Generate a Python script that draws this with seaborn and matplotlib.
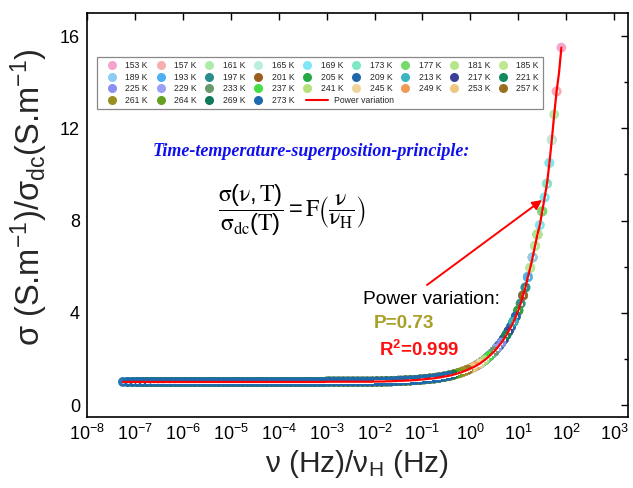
import numpy as np
import pandas as pd
import matplotlib
matplotlib.use("Agg")
import matplotlib.pyplot as plt
import seaborn as sns
from matplotlib.lines import Line2D
from matplotlib.ticker import NullLocator, MultipleLocator

# ---------------- data ----------------
temps = ["153 K", "157 K", "161 K", "165 K", "169 K", "173 K", "177 K", "181 K", "185 K",
         "189 K", "193 K", "197 K", "201 K", "205 K", "209 K", "213 K", "217 K", "221 K",
         "225 K", "229 K", "233 K", "237 K", "241 K", "245 K", "249 K", "253 K", "257 K",
         "261 K", "264 K", "269 K", "273 K"]

temp_colors = ["#F5A3CC", "#F5AFAF", "#AEEBA8", "#B8F0DC", "#7FE6F7", "#7DE8C3", "#77D96A", "#B5E68A", "#BEE890",
               "#8CCBF2", "#4DAFF0", "#2A8C8C", "#9A5E1E", "#22AA44", "#2266AA", "#3AB5C0", "#3A3F99", "#138A5A",
               "#8A8FF0", "#9AA0F5", "#6A9A6A", "#44DD44", "#B5E07A", "#EFD49A", "#F09A55", "#EEC880", "#9A7020",
               "#9A9020", "#66A020", "#0E7A5A", "#1F6AAE"]

# log10 of the last (highest) scaled frequency of each temperature
end_log_nu = [1.90, 1.80, 1.75, 1.70, 1.65, 1.60, 1.50, 1.40, 1.35,
              1.30, 1.20, 1.15, 1.10, 1.00, 0.95, 0.90, 0.80, 0.75,
              0.65, 0.55, 0.50, 0.40, 0.30, 0.20, 0.10, 0.05, -0.05,
              -0.15, -0.25, -0.35, -0.45]
points_per_temp = 69

# master curve sigma/sigma_dc on the scaled-frequency grid (log10 from -7.25, step 0.05)
grid_start_log = -7.25
grid_step_log = 0.05
master_sigma = [
    1.00, 1.00, 1.00, 1.00, 1.00, 1.00, 1.00, 1.00, 1.00, 1.00, 1.00, 1.00, 1.00, 1.00, 1.00, 1.00, 1.00,
    1.00, 1.00, 1.00, 1.00, 1.00, 1.00, 1.00, 1.00, 1.00, 1.00, 1.00, 1.00, 1.00, 1.00, 1.00, 1.00, 1.00,
    1.00, 1.00, 1.00, 1.00, 1.00, 1.00, 1.00, 1.00, 1.00, 1.00, 1.00, 1.00, 1.00, 1.00, 1.00, 1.00, 1.00,
    1.00, 1.00, 1.00, 1.00, 1.00, 1.00, 1.00, 1.00, 1.00, 1.00, 1.00, 1.00, 1.00, 1.00, 1.00, 1.00, 1.00,
    1.00, 1.00, 1.00, 1.00, 1.00, 1.00, 1.00, 1.00, 1.00, 1.00, 1.00, 1.00, 1.00, 1.00, 1.00, 1.00, 1.00,
    1.01, 1.01, 1.01, 1.01, 1.01, 1.01, 1.01, 1.01, 1.01, 1.01, 1.01, 1.01, 1.01, 1.01, 1.01, 1.01, 1.01,
    1.01, 1.01, 1.01,
    1.02, 1.02, 1.02, 1.02, 1.02, 1.03, 1.03, 1.03, 1.04, 1.04,
    1.05, 1.05, 1.05, 1.06, 1.06, 1.07, 1.08, 1.08, 1.09, 1.10,
    1.11, 1.12, 1.13, 1.14, 1.15, 1.16, 1.18, 1.19, 1.21, 1.23,
    1.25, 1.27, 1.29, 1.32, 1.35, 1.38, 1.41, 1.45, 1.49, 1.53,
    1.58, 1.63, 1.68, 1.74, 1.80, 1.88, 1.95, 2.04, 2.13, 2.23,
    2.33, 2.45, 2.58, 2.71, 2.86, 3.03, 3.21, 3.40, 3.61, 3.84,
    4.10, 4.40, 4.75, 5.10, 5.55, 5.95, 6.40, 6.90, 7.40, 7.80,
    8.40, 9.00, 9.60, 10.50, 11.50, 12.60, 13.60, 14.40, 15.50, 16.20,
]
fit_end_log_nu = 1.90

x_tick_exponents = list(range(-8, 4))
y_major_ticks = [0, 4, 8, 12, 16]

# ---------------- build table ----------------
log_grid = np.round(grid_start_log + grid_step_log * np.arange(len(master_sigma)), 2)
sigma = np.array(master_sigma)

rows = []
for t, e in zip(temps, end_log_nu):
    end_idx = int(round((e - grid_start_log) / grid_step_log))
    idx = np.arange(end_idx - 2 * (points_per_temp - 1), end_idx + 1, 2)
    for i in idx:
        rows.append((t, 10 ** log_grid[i], sigma[i]))
df = pd.DataFrame(rows, columns=["T", "nu", "sigma"])

fit_idx = int(round((fit_end_log_nu - grid_start_log) / grid_step_log))
fit_df = pd.DataFrame({"nu": 10 ** log_grid[:fit_idx + 1], "sigma": sigma[:fit_idx + 1]})

# ---------------- style ----------------
sns.set_theme(style="white")
plt.rcParams["font.family"] = ["Liberation Sans", "DejaVu Sans"]
plt.rcParams["mathtext.fontset"] = "custom"
plt.rcParams["mathtext.rm"] = "Liberation Sans"
plt.rcParams["mathtext.it"] = "Liberation Sans:italic"
plt.rcParams["mathtext.bf"] = "Liberation Sans:bold"
plt.rcParams["mathtext.default"] = "regular"

W, H = 633, 488
fig = plt.figure(figsize=(W / 100, H / 100), dpi=100)
L, R, T, B = 87, 628, 13, 417
ax = fig.add_axes([L / W, 1 - B / H, (R - L) / W, (B - T) / H])

palette = dict(zip(temps, temp_colors))
sns.scatterplot(data=df, x="nu", y="sigma", hue="T", palette=palette, s=50,
                linewidth=0, alpha=0.95, legend=False, ax=ax, zorder=2)
sns.scatterplot(data=df, x="nu", y="sigma", color="white", s=4, linewidth=0,
                alpha=0.8, legend=False, ax=ax, zorder=3)
sns.lineplot(data=fit_df, x="nu", y="sigma", color="#FF0000", lw=1.6, sort=False,
             estimator=None, ax=ax, zorder=4)

ax.set_xscale("log")
ax.set_xlim(1e-8, 10 ** 3.29)
ax.set_ylim(-0.52, 17.0)
ax.set_xticks([10.0 ** k for k in x_tick_exponents])
ax.xaxis.set_minor_locator(NullLocator())
ax.set_yticks(y_major_ticks)
ax.yaxis.set_minor_locator(MultipleLocator(2))
ax.tick_params(which="both", direction="in", top=True, right=True, width=1.0, colors="black")
ax.tick_params(which="major", length=5, labelsize=13, pad=5)
ax.tick_params(which="minor", length=3)
for sp in ax.spines.values():
    sp.set_color("black")
    sp.set_linewidth(1.2)

ax.set_xlabel("ν (Hz)/ν$_{\\mathrm{H}}$ (Hz)", fontsize=21.5, labelpad=3)
ax.set_ylabel("σ (S.m$^{-1}$)/σ$_{\\mathrm{dc}}$(S.m$^{-1}$)", fontsize=23.5)
ax.yaxis.set_label_coords((50 - L) / (R - L), (B - 197) / (B - T))

# legend (row-major order in 9 columns)
handles = [Line2D([], [], ls="none", marker="o", markersize=6.5, markerfacecolor=c,
                  markeredgewidth=0) for c in temp_colors]
ncol = 9
nrow = 4
order = [i * ncol + j for j in range(ncol) for i in range(nrow) if i * ncol + j < len(temps)]
leg = ax.legend([handles[k] for k in order], [temps[k] for k in order], ncol=ncol,
                loc="upper left", bbox_to_anchor=((97 - L) / (R - L), (B - 57) / (B - T)),
                borderaxespad=0, fontsize=6.2, handlelength=2.4, handletextpad=0.4,
                columnspacing=0.25, labelspacing=0.3, borderpad=0.5, frameon=True,
                fancybox=False, edgecolor="#888888", framealpha=1)
leg.get_frame().set_linewidth(0.9)
leg.set_zorder(5)
ax.add_artist(leg)
leg2 = ax.legend([Line2D([], [], color="#FF0000", lw=1.5)], ["Power variation"],
                 loc="center left", bbox_to_anchor=((306 - L) / (R - L), (B - 100.5) / (B - T)),
                 borderaxespad=0, borderpad=0, fontsize=6.2, handlelength=2.55,
                 handletextpad=0.7, frameon=False)
leg2.set_zorder(6)

# texts
def fx(px):
    return px / W

def fy(py):
    return 1 - py / H

fig.text(fx(311), fy(152), "Time-temperature-superposition-principle:", color="#1010EE",
         fontsize=13, fontweight="bold", fontstyle="italic", family="Liberation Serif",
         ha="center", va="center")
fig.text(fx(292), fy(210),
         r"$\dfrac{\mathrm{\sigma}(\mathrm{\nu},\mathrm{T})}{\mathrm{\sigma}_{\mathrm{dc}}(\mathrm{T})}"
         r"=\mathrm{F}\left(\dfrac{\mathrm{\nu}}{\mathrm{\nu}_{\mathrm{H}}}\right)$",
         math_fontfamily="stix", fontsize=17, ha="center", va="center", color="black")
fig.text(fx(431), fy(300), "Power variation:", fontsize=13.8, ha="center", va="center", color="black")
fig.text(fx(374), fy(323), "P=0.73", fontsize=13.6, fontweight="bold", ha="left", va="center",
         color="#A8A028")
fig.text(fx(379), fy(350), "R$^{\\mathbf{2}}$=0.999", fontsize=13.4, fontweight="bold", ha="left",
         va="center", color="#FF1010")

ax.annotate("", xy=(fx(542), fy(200)), xycoords="figure fraction",
            xytext=(fx(427), fy(285)), textcoords="figure fraction",
            arrowprops=dict(arrowstyle="-|>", color="#FF0000", lw=1.4,
                            mutation_scale=14, shrinkA=0, shrinkB=0))

fig.savefig("out.png", dpi=100)
